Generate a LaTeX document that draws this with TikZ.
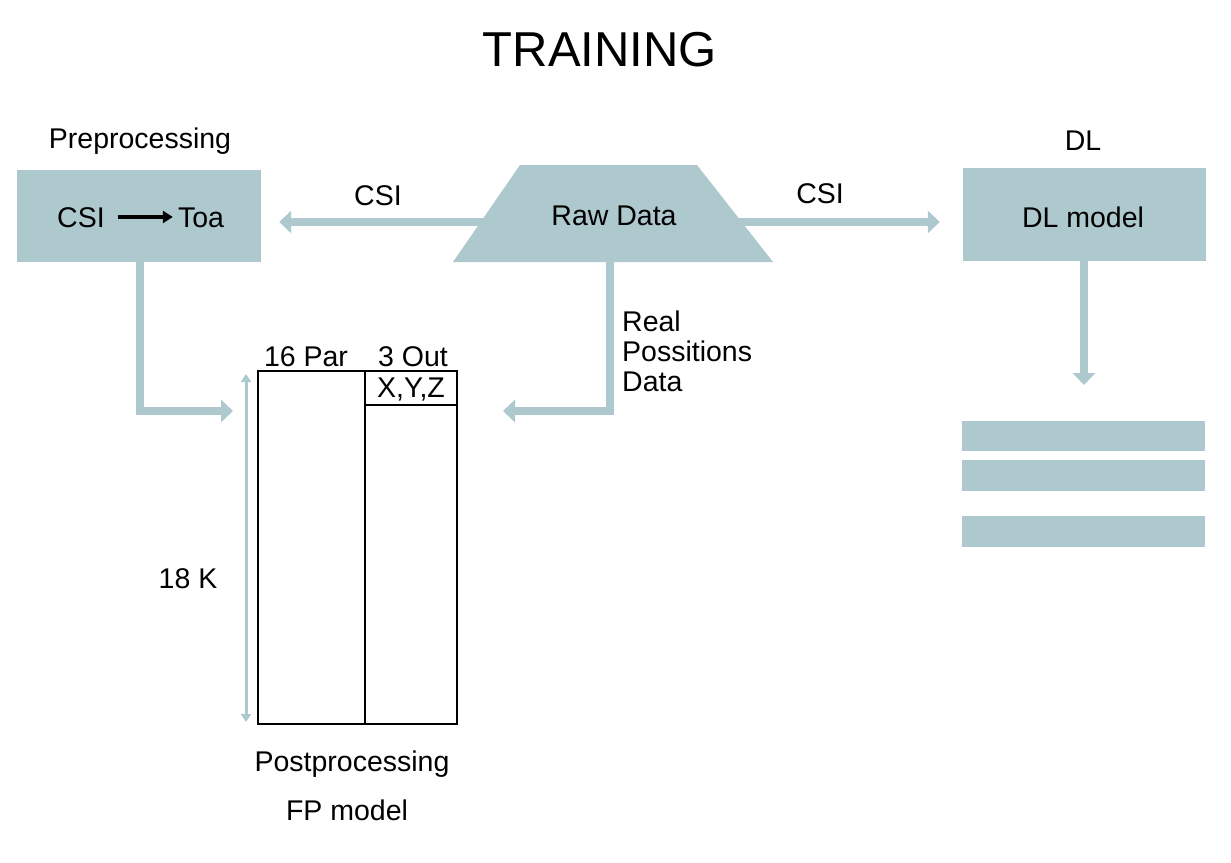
\documentclass[tikz,border=0pt]{standalone}
\usepackage{fontspec}
\setmainfont{Liberation Sans}
\usetikzlibrary{arrows.meta}
\definecolor{steel}{RGB}{173,201,206}
\tikzset{
  txt/.style={font=\fontsize{28.5}{34}\selectfont, inner sep=0pt, anchor=base},
  box/.style={fill=steel, draw=none, inner sep=0pt},
  bigarrow/.style={draw=steel, line width=8pt, -{Triangle[length=12pt,width=22pt]}},
  thinarrow/.style={draw=steel, line width=3pt, {Triangle[length=8pt,width=10pt]}-{Triangle[length=8pt,width=10pt]}},
  blackarrow/.style={draw=black, line width=3.5pt, -{Triangle[length=10pt,width=12pt]}},
  tabline/.style={draw=black, line width=1.6pt}
}
\begin{document}
\begin{tikzpicture}[x=1pt,y=-1pt]
\useasboundingbox (0,0) rectangle (1231,862);
% title
\node[txt, font=\fontsize{49}{58}\selectfont] (title) at (600,66) {TRAINING};
% preprocessing
\node[box, minimum width=244pt, minimum height=92pt] (pre) at (139,216) {};
\node[txt] (prelbl) at (140,148) {Preprocessing};
\node[txt] (csiA) at (81,227) {CSI};
\node[txt] (toa) at (201,227) {Toa};
\draw[blackarrow] ([xshift=13pt,yshift=10pt]csiA.base east) -- ([xshift=-5pt,yshift=10pt]toa.base west);
% DL
\node[box, minimum width=243pt, minimum height=93pt] (dl) at (1084.5,214.5) {};
\node[txt] (dllbl) at (1083,150) {DL};
\node[txt] (dlm) at (1083,227) {DL model};
% arrows from raw data
\coordinate (rawL) at (500,222);
\coordinate (rawR) at (730,222);
\coordinate (rawS) at (610,262);
\draw[bigarrow, shorten >=18pt] (rawL) -- (pre.east |- rawL);
\draw[bigarrow, shorten >=23pt] (rawR) -- (dl.west |- rawR);
\node[txt] (csiL) at (378,205) {CSI};
\node[txt] (csiR) at (820,203) {CSI};
% trapezoid
\fill[steel] (520,165) -- (697,165) -- (773,262) -- (453,262) -- cycle;
\node[txt] (raw) at (614,225) {Raw Data};
% table
\node[tabline, minimum width=199pt, minimum height=353pt, inner sep=0pt] (fp) at (357.5,547.5) {};
\coordinate (divT) at (365,371);
\coordinate (divB) at (365,724);
\draw[tabline] (divT) -- (divB);
\node[tabline, minimum width=92pt, minimum height=34pt, inner sep=0pt] (xyzc) at (411,388) {};
\node[txt] (xyz) at (411,397) {X,Y,Z};
\node[txt] (par) at (306,366) {16 Par};
\node[txt] (out) at (413,366) {3 Out};
\node[txt] (k18) at (188,588) {18 K};
\node[txt] (post) at (352,771) {Postprocessing};
\node[txt] (fpm) at (347,820) {FP model};
\coordinate (vT) at (246,374);
\coordinate (vB) at (246,722);
\draw[thinarrow] (vT) -- (vB);
% pre -> table
\coordinate (preIn) at (233,411);
\draw[bigarrow] ([xshift=1pt]pre.south) |- (preIn);
% raw -> table
\coordinate (rawIn) at (503,411);
\draw[bigarrow] (rawS) |- (rawIn);
\node[txt, anchor=base west] (real) at (622,331) {Real};
\node[txt, anchor=base west] (poss) at (622,361) {Possitions};
\node[txt, anchor=base west] (data) at (622,391) {Data};
% DL -> bars
\coordinate (dlOut) at (1084,385);
\draw[bigarrow] ([xshift=-0.5pt]dl.south) -- (dlOut);
\node[box, minimum width=243pt, minimum height=30pt] (bar1) at (1083.5,436) {};
\node[box, minimum width=243pt, minimum height=31pt] (bar2) at (1083.5,475.5) {};
\node[box, minimum width=243pt, minimum height=31pt] (bar3) at (1083.5,531.5) {};
\end{tikzpicture}
\end{document}
